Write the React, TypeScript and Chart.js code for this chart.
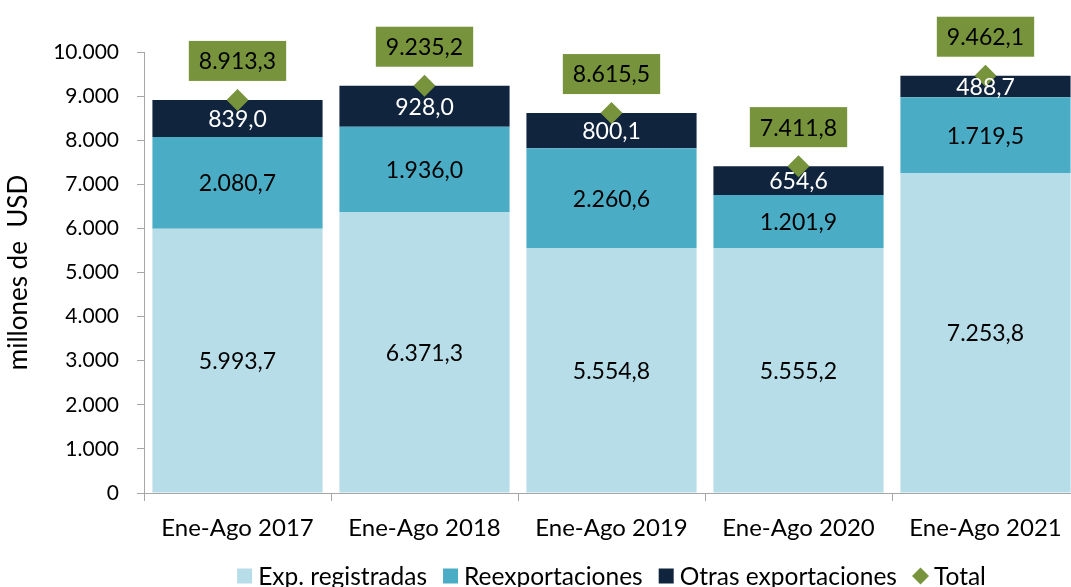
import React, { useEffect, useRef } from "react";
import { Chart, registerables } from "chart.js";

Chart.register(...registerables);

const categories = ["Ene-Ago 2017", "Ene-Ago 2018", "Ene-Ago 2019", "Ene-Ago 2020", "Ene-Ago 2021"];
const expRegistradas = [5993.7, 6371.3, 5554.8, 5555.2, 7253.8];
const reexportaciones = [2080.7, 1936.0, 2260.6, 1201.9, 1719.5];
const otrasExportaciones = [839.0, 928.0, 800.1, 654.6, 488.7];
const total = [8913.3, 9235.2, 8615.5, 7411.8, 9462.1];
const seriesNames = ["Exp. registradas", "Reexportaciones", "Otras exportaciones", "Total"];
const seriesColors = ["#B7DDE8", "#4BACC6", "#10243E", "#77933C"];
const yAxisTitle = "millones de  USD";

const FONT = "Lato, 'Open Sans', sans-serif";

function fmt(v: number, dec: number): string {
  const neg = v < 0;
  const s = Math.abs(v).toFixed(dec);
  const [intPart, decPart] = s.split(".");
  const grouped = intPart.replace(/\B(?=(\d{3})+(?!\d))/g, ".");
  return (neg ? "-" : "") + grouped + (decPart ? "," + decPart : "");
}

const labelPlugin = {
  id: "customLabels",
  afterDatasetsDraw(chart: any) {
    const ctx = chart.ctx;
    ctx.save();
    ctx.textAlign = "center";
    ctx.textBaseline = "middle";
    ctx.font = `23px ${FONT}`;
    for (let d = 0; d < 3; d++) {
      const meta = chart.getDatasetMeta(d);
      const data = chart.data.datasets[d].data as number[];
      meta.data.forEach((el: any, i: number) => {
        const cy = (el.y + el.base) / 2;
        ctx.fillStyle = d === 2 ? "#FFFFFF" : "#000000";
        ctx.fillText(fmt(data[i], 1), el.x, cy + 1);
      });
    }
    const tmeta = chart.getDatasetMeta(3);
    const tdata = chart.data.datasets[3].data as number[];
    tmeta.data.forEach((el: any, i: number) => {
      const txt = fmt(tdata[i], 1);
      const w = ctx.measureText(txt).width + 20;
      const h = 40;
      const cx = el.x;
      const cy = el.y - 39;
      ctx.fillStyle = seriesColors[3];
      ctx.fillRect(cx - w / 2, cy - h / 2, w, h);
      ctx.fillStyle = "#000000";
      ctx.fillText(txt, cx, cy + 1);
    });
    ctx.restore();
  },
  afterDraw(chart: any) {
    const ctx = chart.ctx;
    ctx.save();
    ctx.font = `24.5px ${FONT}`;
    ctx.textBaseline = "middle";
    ctx.textAlign = "left";
    const box = 15;
    const gapBoxText = 6;
    const gapItems = 16;
    const widths = seriesNames.map((n) => box + gapBoxText + ctx.measureText(n).width);
    const totalW = widths.reduce((a, b) => a + b, 0) + gapItems * (seriesNames.length - 1);
    const area = chart.chartArea;
    let x = (area.left + area.right) / 2 - totalW / 2;
    const y = 576;
    seriesNames.forEach((n, i) => {
      ctx.fillStyle = seriesColors[i];
      if (i === 3) {
        ctx.beginPath();
        ctx.moveTo(x + box / 2, y - 8.5);
        ctx.lineTo(x + box / 2 + 8.5, y);
        ctx.lineTo(x + box / 2, y + 8.5);
        ctx.lineTo(x + box / 2 - 8.5, y);
        ctx.closePath();
        ctx.fill();
      } else {
        ctx.fillRect(x, y - box / 2, box, box);
      }
      ctx.fillStyle = "#000000";
      ctx.fillText(n, x + box + gapBoxText, y + 1);
      x += widths[i] + gapItems;
    });
    ctx.restore();
  },
};

export default function App() {
  const ref = useRef<HTMLCanvasElement | null>(null);
  useEffect(() => {
    if (!ref.current) return;
    const chart = new Chart(ref.current, {
      type: "bar",
      data: {
        labels: categories,
        datasets: [
          {
            label: seriesNames[0],
            data: expRegistradas,
            backgroundColor: seriesColors[0],
            barPercentage: 0.91,
            categoryPercentage: 1,
            order: 1,
          },
          {
            label: seriesNames[1],
            data: reexportaciones,
            backgroundColor: seriesColors[1],
            barPercentage: 0.91,
            categoryPercentage: 1,
            order: 1,
          },
          {
            label: seriesNames[2],
            data: otrasExportaciones,
            backgroundColor: seriesColors[2],
            barPercentage: 0.91,
            categoryPercentage: 1,
            order: 1,
          },
          {
            type: "line",
            label: seriesNames[3],
            data: total,
            yAxisID: "y2",
            showLine: false,
            pointStyle: "rectRot",
            pointRadius: 11,
            pointBackgroundColor: seriesColors[3],
            pointBorderWidth: 0,
            borderColor: seriesColors[3],
            backgroundColor: seriesColors[3],
            order: 0,
          } as any,
        ],
      },
      options: {
        animation: false,
        responsive: true,
        maintainAspectRatio: false,
        layout: { padding: { top: 52, right: 4, left: 0, bottom: 0 } },
        plugins: { legend: { display: false }, tooltip: { enabled: false } },
        scales: {
          x: {
            stacked: true,
            grid: {
              display: true,
              offset: true,
              drawOnChartArea: false,
              drawTicks: true,
              tickLength: 8,
              color: "#A6A6A6",
            },
            border: { color: "#A6A6A6" },
            ticks: { font: { family: FONT, size: 24 }, color: "#000000", padding: 13 },
            afterFit: (s: any) => {
              s.height = 94;
            },
          },
          y: {
            stacked: true,
            min: 0,
            max: 10000,
            grid: { drawOnChartArea: false, tickLength: 7, color: "#A6A6A6" },
            border: { color: "#A6A6A6" },
            ticks: {
              stepSize: 1000,
              font: { family: FONT, size: 21 },
              color: "#000000",
              padding: 18,
              callback: (v: any) => fmt(Number(v), 0),
            },
            title: {
              display: true,
              text: yAxisTitle,
              font: { family: FONT, size: 26 },
              color: "#000000",
              padding: { top: 3, bottom: 0 },
            },
            afterFit: (s: any) => {
              s.width = 144;
            },
          },
          y2: { display: false, min: 0, max: 10000 },
        },
      },
      plugins: [labelPlugin],
    });
    return () => chart.destroy();
  }, []);
  return (
    <div style={{ position: "fixed", left: 0, top: 0, width: 1090, height: 587 }}>
      <canvas ref={ref} />
    </div>
  );
}
